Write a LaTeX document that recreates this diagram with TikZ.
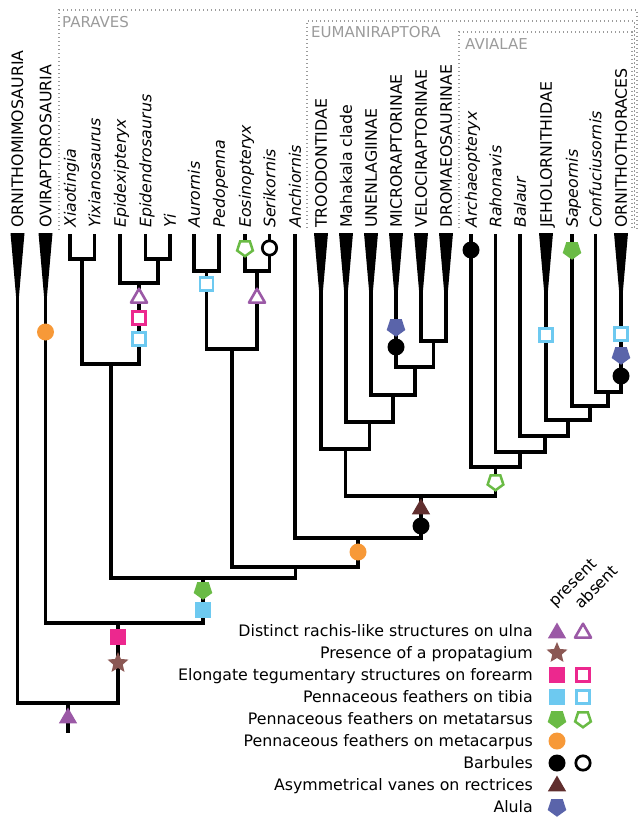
\documentclass[tikz,border=0pt]{standalone}
\usepackage{fontspec}
\setmainfont{DejaVu Sans}
\usepackage{tikz}
\usetikzlibrary{shapes.geometric}
\definecolor{ulnapurple}{RGB}{155,89,166}
\definecolor{propbrown}{RGB}{139,88,84}
\definecolor{forepink}{RGB}{236,40,142}
\definecolor{tibiablue}{RGB}{109,201,240}
\definecolor{metagreen}{RGB}{106,187,69}
\definecolor{carpusorange}{RGB}{247,153,56}
\definecolor{vanebrown}{RGB}{96,46,46}
\definecolor{alulablue}{RGB}{90,100,170}
\definecolor{cladegray}{RGB}{155,155,155}
\newcommand{\labfont}{\fontsize{15.8}{18}\selectfont}
\newcommand{\wedgeat}[1]{\fill (#1) ++(-7,-1) -- ++(14,0) -- ++(-7,80) -- cycle;}
\tikzset{
  branch/.style={line width=3.1pt},
  cladebox/.style={cladegray,line width=1.3pt,dash pattern=on 1.3pt off 2.7pt},
  cladelab/.style={anchor=base west,inner sep=0pt,text=cladegray,font=\fontsize{15}{17}\selectfont},
  tiplab/.style={rotate=90,anchor=west,inner sep=0pt,text height=11.5pt,text depth=0pt,font=\labfont},
  genus/.style={tiplab,font=\labfont\itshape},
  legtext/.style={anchor=east,inner sep=0pt,text height=11.5pt,text depth=0pt,font=\labfont},
  headlab/.style={rotate=45,anchor=west,inner sep=0pt,text height=11.5pt,text depth=0pt,font=\labfont},
  sqF/.style={rectangle,inner sep=0pt,minimum size=15.5pt,fill=#1},
  sqO/.style={rectangle,inner sep=0pt,minimum size=12.8pt,draw=#1,line width=2.6pt,fill=white},
  circF/.style={circle,inner sep=0pt,minimum size=17pt,fill=#1},
  circO/.style={circle,inner sep=0pt,minimum size=14.4pt,draw=#1,line width=2.7pt,fill=white},
  triF/.style={regular polygon,regular polygon sides=3,inner sep=0pt,minimum size=21pt,fill=#1},
  triO/.style={regular polygon,regular polygon sides=3,inner sep=0pt,minimum size=18.5pt,draw=#1,line width=2.6pt,line join=round,fill=white},
  pentF/.style={regular polygon,regular polygon sides=5,shape border rotate=180,inner sep=0pt,minimum size=19.5pt,fill=#1},
  pentO/.style={regular polygon,regular polygon sides=5,shape border rotate=180,inner sep=0pt,minimum size=16.5pt,draw=#1,line width=2.5pt,fill=white},
  starF/.style={star,star points=5,star point ratio=2.2,inner sep=0pt,minimum size=22pt,fill=#1}
}

\begin{document}
\begin{tikzpicture}[x=1pt,y=-1pt]
  \useasboundingbox (0,0) rectangle (638,818);
  % clade boxes
  \draw[cladebox] (59,230) -- (59,10) -- (637,10) -- (637,230);
  \draw[cladebox] (307,228) -- (307,21) -- (634.5,21) -- (634.5,228);
  \draw[cladebox] (459,228) -- (459,32) -- (632,32) -- (632,228);
  \node[cladelab] (cParaves) at (62,27.3) {PARAVES};
  \node[cladelab] (cEuman) at (311,37.3) {EUMANIRAPTORA};
  \node[cladelab] (cAvial) at (465,49.3) {AVIALAE};

  % tips
  \coordinate (tOrn) at (17.5,234);
  \coordinate (tOvi) at (45.5,234);
  \coordinate (tXia) at (70,234);
  \coordinate (tYix) at (94.5,234);
  \coordinate (tEpx) at (120,234);
  \coordinate (tEpd) at (145.5,234);
  \coordinate (tYi) at (170,234);
  \coordinate (tAur) at (194,234);
  \coordinate (tPed) at (219,234);
  \coordinate (tEos) at (245,234);
  \coordinate (tSer) at (269.5,234);
  \coordinate (tAnc) at (295,234);
  \coordinate (tTro) at (321,234);
  \coordinate (tMah) at (346,234);
  \coordinate (tUne) at (371,234);
  \coordinate (tMic) at (396,234);
  \coordinate (tVel) at (421,234);
  \coordinate (tDro) at (446,234);
  \coordinate (tArc) at (471,234);
  \coordinate (tRah) at (495.5,234);
  \coordinate (tBal) at (520,234);
  \coordinate (tJeh) at (546,234);
  \coordinate (tSap) at (572,234);
  \coordinate (tCon) at (595.5,234);
  \coordinate (tOrt) at (621,234);

  \node[tiplab] (lOrn) at ([yshift=6pt]tOrn) {ORNITHOMIMOSAURIA};
  \node[tiplab] (lOvi) at ([yshift=6pt]tOvi) {OVIRAPTOROSAURIA};
  \node[genus] (lXia) at ([yshift=6pt]tXia) {Xiaotingia};
  \node[genus] (lYix) at ([yshift=6pt]tYix) {Yixianosaurus};
  \node[genus] (lEpx) at ([yshift=6pt]tEpx) {Epidexipteryx};
  \node[genus] (lEpd) at ([yshift=6pt]tEpd) {Epidendrosaurus};
  \node[genus] (lYi) at ([yshift=6pt]tYi) {Yi};
  \node[genus] (lAur) at ([yshift=6pt]tAur) {Aurornis};
  \node[genus] (lPed) at ([yshift=6pt]tPed) {Pedopenna};
  \node[genus] (lEos) at ([yshift=6pt]tEos) {Eosinopteryx};
  \node[genus] (lSer) at ([yshift=6pt]tSer) {Serikornis};
  \node[genus] (lAnc) at ([yshift=6pt]tAnc) {Anchiornis};
  \node[tiplab] (lTro) at ([yshift=6pt]tTro) {TROODONTIDAE};
  \node[tiplab] (lMah) at ([yshift=6pt]tMah) {Mahakala clade};
  \node[tiplab] (lUne) at ([yshift=6pt]tUne) {UNENLAGIINAE};
  \node[tiplab] (lMic) at ([yshift=6pt]tMic) {MICRORAPTORINAE};
  \node[tiplab] (lVel) at ([yshift=6pt]tVel) {VELOCIRAPTORINAE};
  \node[tiplab] (lDro) at ([yshift=6pt]tDro) {DROMAEOSAURINAE};
  \node[genus] (lArc) at ([yshift=6pt]tArc) {Archaeopteryx};
  \node[genus] (lRah) at ([yshift=6pt]tRah) {Rahonavis};
  \node[genus] (lBal) at ([yshift=6pt]tBal) {Balaur};
  \node[tiplab] (lJeh) at ([yshift=6pt]tJeh) {JEHOLORNITHIDAE};
  \node[genus] (lSap) at ([yshift=6pt]tSap) {Sapeornis};
  \node[genus] (lCon) at ([yshift=6pt]tCon) {Confuciusornis};
  \node[tiplab] (lOrt) at ([yshift=6pt]tOrt) {ORNITHOTHORACES};

  % wedges for higher taxa
  \wedgeat{tOrn} \wedgeat{tOvi} \wedgeat{tTro} \wedgeat{tMah} \wedgeat{tUne}
  \wedgeat{tMic} \wedgeat{tVel} \wedgeat{tDro} \wedgeat{tJeh} \wedgeat{tOrt}

  % internal nodes
  \coordinate (nXY) at (82,259);
  \coordinate (nEY) at (158,259);
  \coordinate (nEEY) at (139,283);
  \coordinate (nXE) at (111,364);
  \coordinate (nAP) at (206.5,271);
  \coordinate (nES) at (257,271);
  \coordinate (nAE) at (232,349);
  \coordinate (nVD) at (433.5,341);
  \coordinate (nMVD) at (415,367);
  \coordinate (nUn) at (393,395);
  \coordinate (nMa) at (369.5,422);
  \coordinate (nTr) at (345.5,449);
  \coordinate (nCO) at (608,392);
  \coordinate (nSa) at (590,406);
  \coordinate (nJe) at (568,420);
  \coordinate (nBa) at (545,436);
  \coordinate (nRa) at (520,452);
  \coordinate (nAr) at (495.5,467);
  \coordinate (nEu) at (421,496);
  \coordinate (nAn) at (358,538);
  \coordinate (nAA) at (295.5,567);
  \coordinate (nPa) at (203,578);
  \coordinate (nOv) at (118,623);
  \coordinate (nRo) at (68,703);
  \coordinate (rootEnd) at (68,733);

  % branches
  \draw[branch] (tXia) |- (nXY) (tYix) |- (nXY);
  \draw[branch] (tEpd) |- (nEY) (tYi) |- (nEY);
  \draw[branch] (tEpx) |- (nEEY) (nEY) |- (nEEY);
  \draw[branch] (nXY) |- (nXE) (nEEY) |- (nXE);
  \draw[branch] (tAur) |- (nAP) (tPed) |- (nAP);
  \draw[branch] (tEos) |- (nES) (tSer) |- (nES);
  \draw[branch] (nAP) |- (nAE) (nES) |- (nAE);
  \draw[branch] (tVel) |- (nVD) (tDro) |- (nVD);
  \draw[branch] (tMic) |- (nMVD) (nVD) |- (nMVD);
  \draw[branch] (tUne) |- (nUn) (nMVD) |- (nUn);
  \draw[branch] (tMah) |- (nMa) (nUn) |- (nMa);
  \draw[branch] (tTro) |- (nTr) (nMa) |- (nTr);
  \draw[branch] (tCon) |- (nCO) (tOrt) |- (nCO);
  \draw[branch] (tSap) |- (nSa) (nCO) |- (nSa);
  \draw[branch] (tJeh) |- (nJe) (nSa) |- (nJe);
  \draw[branch] (tBal) |- (nBa) (nJe) |- (nBa);
  \draw[branch] (tRah) |- (nRa) (nBa) |- (nRa);
  \draw[branch] (tArc) |- (nAr) (nRa) |- (nAr);
  \draw[branch] (nTr) |- (nEu) (nAr) |- (nEu);
  \draw[branch] (tAnc) |- (nAn) (nEu) |- (nAn);
  \draw[branch] (nAE) |- (nAA) (nAn) |- (nAA);
  \draw[branch] (nXE) |- (nPa) (nAA) |- (nPa);
  \draw[branch] (tOvi) |- (nOv) (nPa) |- (nOv);
  \draw[branch] (tOrn) |- (nRo) (nOv) |- (nRo);
  \draw[branch] (nRo) -- (rootEnd);

  % character states on the tree
  \node[circF=carpusorange] (mOviCarpus) at (45.5,332) {};
  \node[triO=ulnapurple] (mEpxUlna) at (139,298) {};
  \node[sqO=forepink] (mEpxFore) at (139,318) {};
  \node[sqO=tibiablue] (mEpxTibia) at (139,339) {};
  \node[sqO=tibiablue] (mAurTibia) at (206.5,284) {};
  \node[pentO=metagreen] (mEosMeta) at (245,248) {};
  \node[circO=black] (mSerBarb) at (269.5,248) {};
  \node[triO=ulnapurple] (mEosUlna) at (257,298) {};
  \node[pentF=alulablue] (mMicAlula) at (396,327) {};
  \node[circF=black] (mMicBarb) at (396,347) {};
  \node[circF=carpusorange] (mAncCarpus) at (358,552) {};
  \node[triF=vanebrown] (mEuVanes) at (421,509) {};
  \node[circF=black] (mEuBarb) at (421,526) {};
  \node[pentO=metagreen] (mAviMeta) at (495.5,482) {};
  \node[circF=black] (mArcBarb) at (471,250) {};
  \node[pentF=metagreen] (mSapMeta) at (572,250) {};
  \node[sqO=tibiablue] (mJehTibia) at (546,335) {};
  \node[sqO=tibiablue] (mOrtTibia) at (621,334) {};
  \node[pentF=alulablue] (mOrtAlula) at (621,355) {};
  \node[circF=black] (mOrtBarb) at (621,376) {};
  \node[pentF=metagreen] (mParMeta) at (203,590) {};
  \node[sqF=tibiablue] (mParTibia) at (203,610) {};
  \node[sqF=forepink] (mOviFore) at (118,637) {};
  \node[starF=propbrown] (mOviProp) at (118,663) {};
  \node[triF=ulnapurple] (mRootUlna) at (68,718) {};

  % legend
  \node[headlab] (lgPresent) at (551,604) {present};
  \node[headlab] (lgAbsent) at (577,606) {absent};
  \node[legtext] (lgUlna) at (533,631) {Distinct rachis-like structures on ulna};
  \node[triF=ulnapurple] (lgUlnaP) at (557,633) {};
  \node[triO=ulnapurple] (lgUlnaA) at (583,633) {};
  \node[legtext] (lgProp) at (533,653) {Presence of a propatagium};
  \node[starF=propbrown] (lgPropP) at (557,653) {};
  \node[legtext] (lgFore) at (533,675) {Elongate tegumentary structures on forearm};
  \node[sqF=forepink] (lgForeP) at (557,675) {};
  \node[sqO=forepink] (lgForeA) at (583,675) {};
  \node[legtext] (lgTibia) at (533,697) {Pennaceous feathers on tibia};
  \node[sqF=tibiablue] (lgTibiaP) at (557,697) {};
  \node[sqO=tibiablue] (lgTibiaA) at (583,697) {};
  \node[legtext] (lgMeta) at (533,719) {Pennaceous feathers on metatarsus};
  \node[pentF=metagreen] (lgMetaP) at (557,719) {};
  \node[pentO=metagreen] (lgMetaA) at (583,719) {};
  \node[legtext] (lgCarpus) at (533,741) {Pennaceous feathers on metacarpus};
  \node[circF=carpusorange] (lgCarpusP) at (557,741) {};
  \node[legtext] (lgBarb) at (533,763) {Barbules};
  \node[circF=black] (lgBarbP) at (557,763) {};
  \node[circO=black] (lgBarbA) at (583,763) {};
  \node[legtext] (lgVanes) at (533,785) {Asymmetrical vanes on rectrices};
  \node[triF=vanebrown] (lgVanesP) at (557,786) {};
  \node[legtext] (lgAlula) at (533,807) {Alula};
  \node[pentF=alulablue] (lgAlulaP) at (557,807) {};
\end{tikzpicture}
\end{document}
